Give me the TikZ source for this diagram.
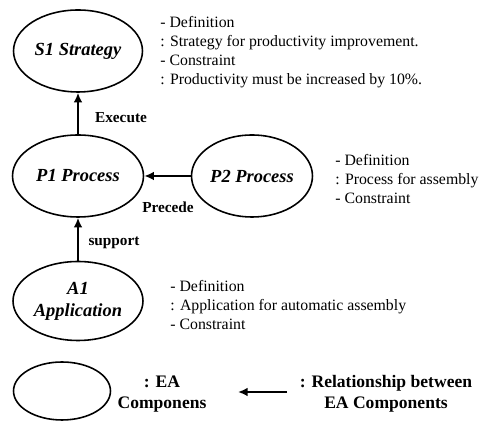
\documentclass[tikz,border=0pt]{standalone}
\usepackage{fontspec}
\setmainfont{Liberation Serif}
\usetikzlibrary{shapes.geometric,arrows.meta}
\begin{document}
\begin{tikzpicture}[x=0.02cm,y=-0.02cm,
    comp/.style={draw,ellipse,line width=0.9pt,inner sep=0pt,align=center,
      font=\fontsize{10.5}{12.5}\selectfont\bfseries\itshape},
    rel/.style={-{Latex[length=5.5pt,width=5pt]},line width=1.1pt},
    note/.style={anchor=west,align=left,inner sep=0pt,font=\fontsize{9}{10.8}\selectfont},
    lbl/.style={inner sep=0pt,align=center,font=\fontsize{8.7}{10.5}\selectfont\bfseries},
    leg/.style={lbl,font=\fontsize{10}{12.2}\selectfont\bfseries}]
  \useasboundingbox (0,0) rectangle (480,421);
  % components
  \node[comp,minimum width=2.58cm,minimum height=1.64cm] (s1) at (78,51) {S1 Strategy};
  \node[comp,minimum width=2.62cm,minimum height=1.64cm] (p1) at (78,176) {P1 Process};
  \node[comp,minimum width=2.42cm,minimum height=1.64cm] (p2) at (252,176) {P2 Process};
  \node[comp,minimum width=2.6cm,minimum height=1.58cm] (a1) at (78,301) {A1\\Application};
  % descriptions
  \node[note] (s1note) at (160,52) {- Definition\\: Strategy for productivity improvement.\\- Constraint\\: Productivity must be increased by 10\%.};
  \node[note] (p2note) at (335,179) {- Definition\\: Process for assembly\\- Constraint};
  \node[note] (a1note) at (170,305) {- Definition\\: Application for automatic assembly\\- Constraint};
  % relationships
  \draw[rel] (p1) -- (s1);
  \draw[rel] (p2) -- (p1);
  \draw[rel] (a1) -- (p1);
  \node[lbl] (execute) at (121,118) {Execute};
  \node[lbl] (precede) at (168,207) {Precede};
  \node[lbl] (support) at (114,243) {support};
  % legend
  \node[comp,minimum width=1.94cm,minimum height=1.16cm] (legcomp) at (62,391) {};
  \node[leg] (legcomptxt) at (162,394) {: EA\\Componens};
  \coordinate (legfrom) at (287,392);
  \coordinate (legto) at (238,392);
  \draw[rel] (legfrom) -- (legto);
  \node[leg] (legreltxt) at (386,394) {: Relationship between\\EA Components};
\end{tikzpicture}
\end{document}
